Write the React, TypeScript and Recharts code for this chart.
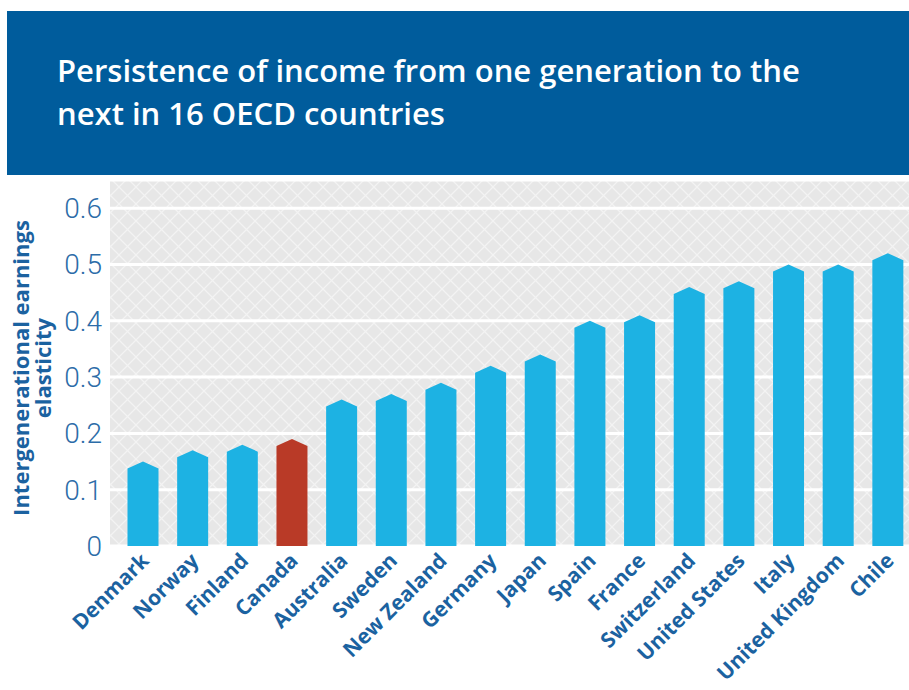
import { Bar, BarChart, CartesianGrid, XAxis, YAxis } from "recharts";

const countries = [
  "Denmark",
  "Norway",
  "Finland",
  "Canada",
  "Australia",
  "Sweden",
  "New Zealand",
  "Germany",
  "Japan",
  "Spain",
  "France",
  "Switzerland",
  "United States",
  "Italy",
  "United Kingdom",
  "Chile"
];
const elasticity = [0.15, 0.17, 0.18, 0.19, 0.26, 0.27, 0.29, 0.32, 0.34, 0.4, 0.41, 0.46, 0.47, 0.5, 0.5, 0.52];
const highlighted = ["Canada"];
const yTicks = [0, 0.1, 0.2, 0.3, 0.4, 0.5, 0.6];
const yMax = 0.65;

const titleLines = ["Persistence of income from one generation to the", "next in 16 OECD countries"];
const yLabelLines = ["Intergenerational earnings", "elasticity"];

const data = countries.map((country, i) => ({ country, value: elasticity[i] }));

const labelBlue = "#1b62a0";
const tickBlue = "#2c6ca8";

function RoofBar(props: any) {
  const { x, y, width, height, payload } = props;
  if (height <= 0) return null;
  const roof = 7;
  const fill = highlighted.includes(payload.country) ? "#b93a27" : "#1db2e3";
  const points = [
    [x, y + roof],
    [x + width / 2, y],
    [x + width, y + roof],
    [x + width, y + height],
    [x, y + height]
  ]
    .map((p) => p.join(","))
    .join(" ");
  return <polygon points={points} fill={fill} />;
}

function CountryTick(props: any) {
  const { x, y, payload } = props;
  const tx = x + 7;
  const ty = y + 14;
  return (
    <text
      x={tx}
      y={ty}
      transform={`rotate(-45 ${tx} ${ty})`}
      textAnchor="end"
      fill={labelBlue}
      fontFamily="'Open Sans', sans-serif"
      fontWeight={700}
      fontSize={21}
    >
      {payload.value}
    </text>
  );
}

function YLabel() {
  return (
    <g fill={labelBlue} fontFamily="'Open Sans', sans-serif" fontWeight={700} fontSize={22}>
      <text x={29} y={368} transform="rotate(-90 29 368)" textAnchor="middle">
        {yLabelLines[0]}
      </text>
      <text x={51} y={368} transform="rotate(-90 51 368)" textAnchor="middle">
        {yLabelLines[1]}
      </text>
    </g>
  );
}

export default function App() {
  return (
    <div style={{ position: "absolute", left: 0, top: 0, width: 909, height: 690, overflow: "hidden", background: "#fff" }}>
      <div
        style={{
          position: "absolute",
          left: 7,
          top: 11,
          width: 902,
          height: 164,
          background: "#005c9c"
        }}
      />
      <svg width={909} height={180} style={{ position: "absolute", left: 0, top: 0 }}>
        {titleLines.map((line, i) => (
          <text
            key={line}
            x={57}
            y={82 + i * 43}
            fill="#fff"
            fontFamily="'Open Sans', sans-serif"
            fontWeight={600}
            fontSize={31}
          >
            {line}
          </text>
        ))}
      </svg>
      <div style={{ position: "absolute", left: 0, top: 0 }}>
        <BarChart width={909} height={690} data={data} margin={{ top: 180, right: 0, bottom: 0, left: 0 }} barSize={31}>
          <defs>
            <pattern id="lattice" patternUnits="userSpaceOnUse" width={17} height={17}>
              <rect width={17} height={17} fill="#e7e7e7" />
              <path d="M0,0 L17,17 M17,0 L0,17" stroke="#f3f3f3" strokeWidth={1.3} />
            </pattern>
          </defs>
          <CartesianGrid vertical={false} fill="url(#lattice)" stroke="#ffffff" strokeWidth={3} />
          <XAxis
            dataKey="country"
            interval={0}
            padding={{ left: 8.5, right: -4 }}
            axisLine={false}
            tickLine={false}
            tickSize={0}
            tick={<CountryTick />}
            height={144}
          />
          <YAxis
            width={110}
            domain={[0, yMax]}
            ticks={yTicks}
            interval={0}
            axisLine={false}
            tickLine={false}
            tickSize={0}
            tickMargin={8}
            tick={{ fill: tickBlue, fontSize: 28, fontWeight: 300, fontFamily: "Roboto, sans-serif" }}
            label={{ content: () => <YLabel /> }}
          />
          <Bar dataKey="value" shape={<RoofBar />} isAnimationActive={false} />
        </BarChart>
      </div>
    </div>
  );
}
